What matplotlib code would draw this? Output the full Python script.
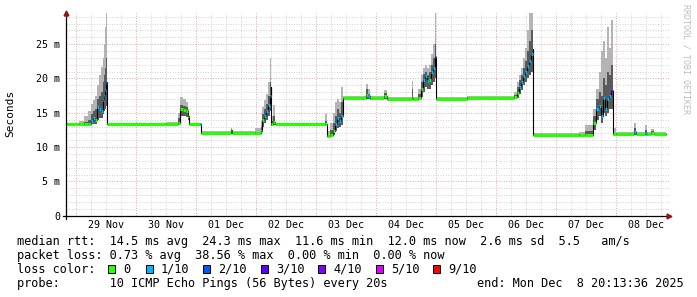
import matplotlib
matplotlib.use('Agg')
import numpy as np
import matplotlib.pyplot as plt
from matplotlib.patches import Rectangle
from datetime import datetime, timedelta

plt.rcParams['font.family'] = ['DejaVu Sans Mono']

# ---------------- data ----------------
start = datetime(2025, 11, 28, 20, 13, 36)
end = datetime(2025, 12, 8, 20, 13, 36)

# hours since start of each sample (step start)
hours = [0.0, 5.0, 7.1, 8.7, 9.9, 10.7, 11.5, 12.3, 13.1, 13.9, 14.5, 14.9, 15.3, 15.7, 16.1,
         16.4, 40.0, 44.7, 45.5, 46.7, 47.9, 48.7, 49.1, 53.4, 53.8, 65.8, 66.2, 75.5,
         77.8, 78.3, 79.1, 79.9, 80.7, 81.3, 81.7, 82.0, 82.7, 83.5, 103.5, 104.4, 105.5,
         106.7, 107.5, 108.3, 109.1, 109.9, 110.7, 119.8, 120.7, 121.5, 127.1, 128.3,
         138.3, 138.7, 140.7, 141.9, 142.7, 143.5, 144.3, 145.1, 145.9, 146.7, 147.3,
         147.8, 160.3, 179.1, 180.3, 181.1, 181.9, 182.7, 183.5, 184.3, 185.1, 185.9,
         186.5, 186.8, 205.0, 207.5, 210.8, 211.9, 213.1, 213.9, 214.7, 215.5, 216.3,
         217.1, 217.9, 218.8, 220.0, 227.0, 227.8, 231.5, 232.3, 234.0, 235.0]
# median rtt (ms)
median = [13.3, 13.3, 13.3, 13.4, 13.8, 14.2, 13.9, 15.9, 15.6, 15.3, 16.8, 17.5, 18.3, 19.3, 19.5,
          13.3, 13.3, 13.5, 15.5, 15.4, 15.2, 14.6, 13.3, 13.3, 12.1, 12.5, 12.1, 12.1,
          12.3, 14.0, 14.6, 15.3, 16.2, 17.5, 18.8, 13.3, 13.6, 13.3, 13.3, 11.6, 11.7,
          12.4, 13.3, 14.2, 13.8, 14.5, 17.1, 17.6, 17.4, 17.1, 17.5, 17.0,
          17.2, 17.0, 17.2, 18.5, 19.8, 20.3, 19.6, 19.8, 21.0, 21.5, 23.2,
          17.0, 17.2, 17.3, 17.9, 18.8, 19.5, 20.3, 21.0, 21.8, 22.6, 23.5,
          24.3, 11.8, 11.8, 11.8, 13.5, 15.6, 16.0, 14.5, 17.1, 15.5, 17.0,
          17.5, 18.2, 11.9, 11.9, 12.2, 11.9, 11.9, 11.9, 12.1, 11.9]
# loss index (0 -> 0, 1 -> 1/10, 2 -> 2/10, 3 -> 3/10 ...)
loss = [0, 0, 0, 0, 1, 1, 0, 1, 1, 1, 1, 1, 1, 2, 3,
        0, 0, 0, 0, 0, 0, 0, 0, 1, 0, 0, 0, 0,
        0, 0, 1, 1, 1, 1, 3, 0, 0, 0, 0, 0, 0,
        0, 1, 1, 1, 1, 0, 0, 1, 0, 0, 0,
        0, 0, 0, 0, 1, 1, 1, 0, 1, 1, 2,
        0, 0, 0, 0, 1, 1, 1, 1, 1, 1, 1,
        2, 0, 0, 0, 0, 1, 1, 1, 1, 1, 1,
        1, 3, 0, 0, 1, 0, 1, 0, 0, 0]
# smoke: lowest ping, upper edge of dense smoke, highest ping (ms)
smoke_lo = [13.2, 13.2, 13.2, 13.2, 13.3, 13.4, 13.4, 14.0, 14.2, 14.3, 14.8, 15.2, 15.6, 16.0, 16.5,
            13.2, 13.2, 13.3, 14.5, 14.6, 14.4, 14.0, 13.2, 13.2, 12.0, 12.1, 12.0, 12.0,
            12.1, 13.0, 13.5, 14.0, 14.6, 15.2, 15.8, 13.1, 13.2, 13.2, 13.2, 11.4, 11.5,
            11.8, 12.3, 12.8, 13.0, 13.2, 16.9, 17.0, 17.0, 16.9, 17.0, 16.9,
            16.9, 16.9, 16.9, 17.3, 18.0, 18.8, 18.5, 18.5, 19.0, 19.5, 20.0,
            16.9, 17.0, 17.0, 17.2, 17.8, 18.3, 19.0, 19.5, 20.0, 20.5, 21.0,
            21.5, 11.7, 11.7, 11.7, 12.5, 14.0, 14.5, 13.5, 15.0, 14.5, 15.0,
            15.5, 15.5, 11.8, 11.8, 11.8, 11.8, 11.8, 11.8, 11.8, 11.8]
smoke_core = [13.4, 13.4, 13.6, 14.0, 14.8, 15.2, 15.5, 17.0, 17.5, 18.0, 19.5, 20.5, 21.5, 23.0, 22.5,
              13.4, 13.4, 14.2, 16.2, 16.0, 15.8, 15.0, 13.4, 13.4, 12.2, 12.6, 12.2, 12.2,
              13.0, 14.8, 15.5, 16.3, 17.5, 19.5, 22.0, 13.8, 14.5, 13.4, 13.8, 11.8, 12.5,
              13.5, 14.5, 15.5, 15.0, 16.5, 17.2, 18.5, 17.8, 17.2, 17.9, 17.1,
              18.5, 17.1, 17.8, 19.5, 20.6, 21.0, 20.5, 21.0, 22.0, 23.0, 25.0,
              17.1, 17.3, 17.6, 18.8, 19.8, 20.5, 21.5, 22.5, 24.0, 25.5, 27.0,
              28.0, 11.9, 11.9, 12.3, 14.5, 17.0, 18.0, 17.5, 20.0, 19.0, 21.0,
              20.5, 22.0, 12.1, 12.0, 12.8, 12.0, 12.5, 12.0, 12.3, 12.0]
smoke_hi = [13.5, 13.8, 14.5, 15.2, 16.3, 16.8, 17.5, 19.0, 20.5, 21.7, 23.0, 25.0, 27.5, 29.5, 29.5,
            13.5, 13.6, 15.0, 17.3, 17.0, 16.5, 15.5, 13.5, 13.5, 12.3, 12.8, 12.3, 12.8,
            13.8, 15.8, 16.8, 17.8, 19.5, 23.0, 29.5, 14.5, 16.1, 13.5, 14.8, 12.3, 13.5,
            15.0, 16.5, 17.0, 16.5, 18.8, 17.4, 19.2, 18.5, 17.4, 18.3, 17.3,
            19.7, 17.3, 18.5, 20.5, 21.5, 22.0, 21.5, 22.0, 23.5, 25.0, 29.5,
            17.3, 17.5, 18.0, 19.5, 20.5, 21.5, 23.0, 24.5, 27.0, 29.5, 29.5,
            29.5, 12.0, 12.2, 13.2, 15.5, 18.5, 21.0, 24.0, 25.5, 23.0, 27.5,
            24.5, 28.5, 12.8, 12.2, 13.5, 12.2, 13.2, 12.2, 12.6, 12.2]

loss_labels = ["0", "1/10", "2/10", "3/10", "4/10", "5/10", "9/10"]
loss_colors = ["#26ff00", "#00b8ff", "#0059ff", "#5e00ff", "#7e00ff", "#dd00ff", "#ff0000"]

y_ticks = [0, 5, 10, 15, 20, 25]
y_tick_labels = ["0", "5 m", "10 m", "15 m", "20 m", "25 m"]

legend_lines = [
    "median rtt:  14.5 ms avg  24.3 ms max  11.6 ms min  12.0 ms now  2.6 ms sd  5.5   am/s",
    "packet loss: 0.73 % avg  38.56 % max  0.00 % min  0.00 % now",
]
probe_text = "probe:       10 ICMP Echo Pings (56 Bytes) every 20s"
end_text = "end: Mon Dec  8 20:13:36 2025"

# ---------------- figure ----------------
W, H = 697, 297
fig = plt.figure(figsize=(W / 100, H / 100), dpi=100)
fig.patch.set_facecolor('white')

def fx(px):
    return px / W

def fy(py):
    return 1 - py / H

ax_l, ax_r, ax_b, ax_t = 66.3, 669.0, 215.7, 13.3
ax = fig.add_axes([fx(ax_l), fy(ax_b), (ax_r - ax_l) / W, (ax_b - ax_t) / H])
px_per_hour = 2.5
xmax = (ax_r - ax_l) / px_per_hour
ymax = 29.5
ax.set_xlim(0, xmax)
ax.set_ylim(0, ymax)
ax.set_facecolor('white')

# grid
total_h = (end - start).total_seconds() / 3600
first_mid = (datetime(2025, 11, 29) - start).total_seconds() / 3600
dot = (0, (1, 1.6))
minor_c = '#d2d2d2'
major_c = '#eaa4a4'
t = first_mid
while t <= xmax:
    is_major = abs(((t - first_mid) / 24) - round((t - first_mid) / 24)) < 1e-6
    ax.axvline(t, color=major_c if is_major else minor_c, lw=0.7, ls=dot, zorder=0)
    t += 6
for v in range(1, int(ymax) + 1):
    ax.axhline(v, color=major_c if v % 5 == 0 else minor_c, lw=0.7, ls=dot, zorder=0)

# data
h = np.array(hours + [total_h])
med = np.array(median + [median[-1]])
lo = np.array(smoke_lo + [smoke_lo[-1]])
core = np.array(smoke_core + [smoke_core[-1]])
hi = np.array(smoke_hi + [smoke_hi[-1]])

ax.fill_between(h, lo, hi, step='post', color='#b4b4b4', lw=0, zorder=2)
ax.fill_between(h, lo, core, step='post', color='#5a5a5a', lw=0, zorder=3)
ax.step(h, med, where='post', color='black', lw=0.8, zorder=4)
for i in range(len(hours)):
    ax.plot([h[i], h[i + 1]], [med[i], med[i]], color=loss_colors[loss[i]],
            lw=2.2, solid_capstyle='butt', zorder=5)

# axes styling
for s in ['top', 'right']:
    ax.spines[s].set_visible(False)
for s in ['left', 'bottom']:
    ax.spines[s].set_color('black')
    ax.spines[s].set_linewidth(0.9)
    ax.spines[s].set_zorder(6)

ax.set_yticks(y_ticks)
ax.set_yticklabels(y_tick_labels)
noon_ticks = []
noon_labels = []
d = datetime(2025, 11, 29, 12)
while d < end:
    noon_ticks.append((d - start).total_seconds() / 3600)
    noon_labels.append(d.strftime('%d %b'))
    d += timedelta(days=1)
ax.set_xticks(noon_ticks)
ax.set_xticklabels(noon_labels)
ax.tick_params(axis='y', length=0, pad=4.3, labelsize=7.2)
ax.tick_params(axis='x', length=0, pad=3.2, labelsize=7.2)

# arrows
arrow_c = '#9b1010'
ax.plot([1.0], [0], marker='>', color=arrow_c, markersize=3.5, transform=ax.transAxes,
        clip_on=False, zorder=7)
ax.plot([0], [1.0], marker='^', color=arrow_c, markersize=3.5, transform=ax.transAxes,
        clip_on=False, zorder=7)
# small axis overhangs
fig.add_artist(plt.Line2D([fx(ax_l), fx(ax_l)], [fy(ax_b), fy(ax_b + 3)], color='black', lw=0.9))
fig.add_artist(plt.Line2D([fx(ax_l - 3), fx(ax_l)], [fy(ax_b), fy(ax_b)], color='black', lw=0.9))

# labels
fig.text(fx(10), fy(113), 'Seconds', rotation=90, ha='center', va='center', fontsize=8)
fig.text(fx(686), fy(4), 'RRDTOOL / TOBI OETIKER', rotation=270, ha='center', va='top',
         fontsize=6, color='#bdbdbd')

fs = 8.6
fig.text(fx(16.7), fy(241.7), legend_lines[0], ha='left', va='center', fontsize=fs)
fig.text(fx(16.7), fy(255.3), legend_lines[1], ha='left', va='center', fontsize=fs)
fig.text(fx(16.7), fy(269.3), 'loss color:', ha='left', va='center', fontsize=fs)
swatch_x = [108.3, 146.0, 203.3, 261.0, 318.3, 376.0, 433.3]
for sx, lab, col in zip(swatch_x, loss_labels, loss_colors):
    fig.add_artist(Rectangle((fx(sx), fy(273.0)), 7 / W, 8 / H, facecolor=col,
                             edgecolor='black', lw=0.7, transform=fig.transFigure))
    fig.text(fx(sx + 15.0), fy(269.3), lab, ha='left', va='center', fontsize=fs)
fig.text(fx(16.7), fy(283.5), probe_text, ha='left', va='center', fontsize=fs)
fig.text(fx(684), fy(283.5), end_text, ha='right', va='center', fontsize=fs)

fig.savefig('out.png', dpi=100, facecolor='white')
